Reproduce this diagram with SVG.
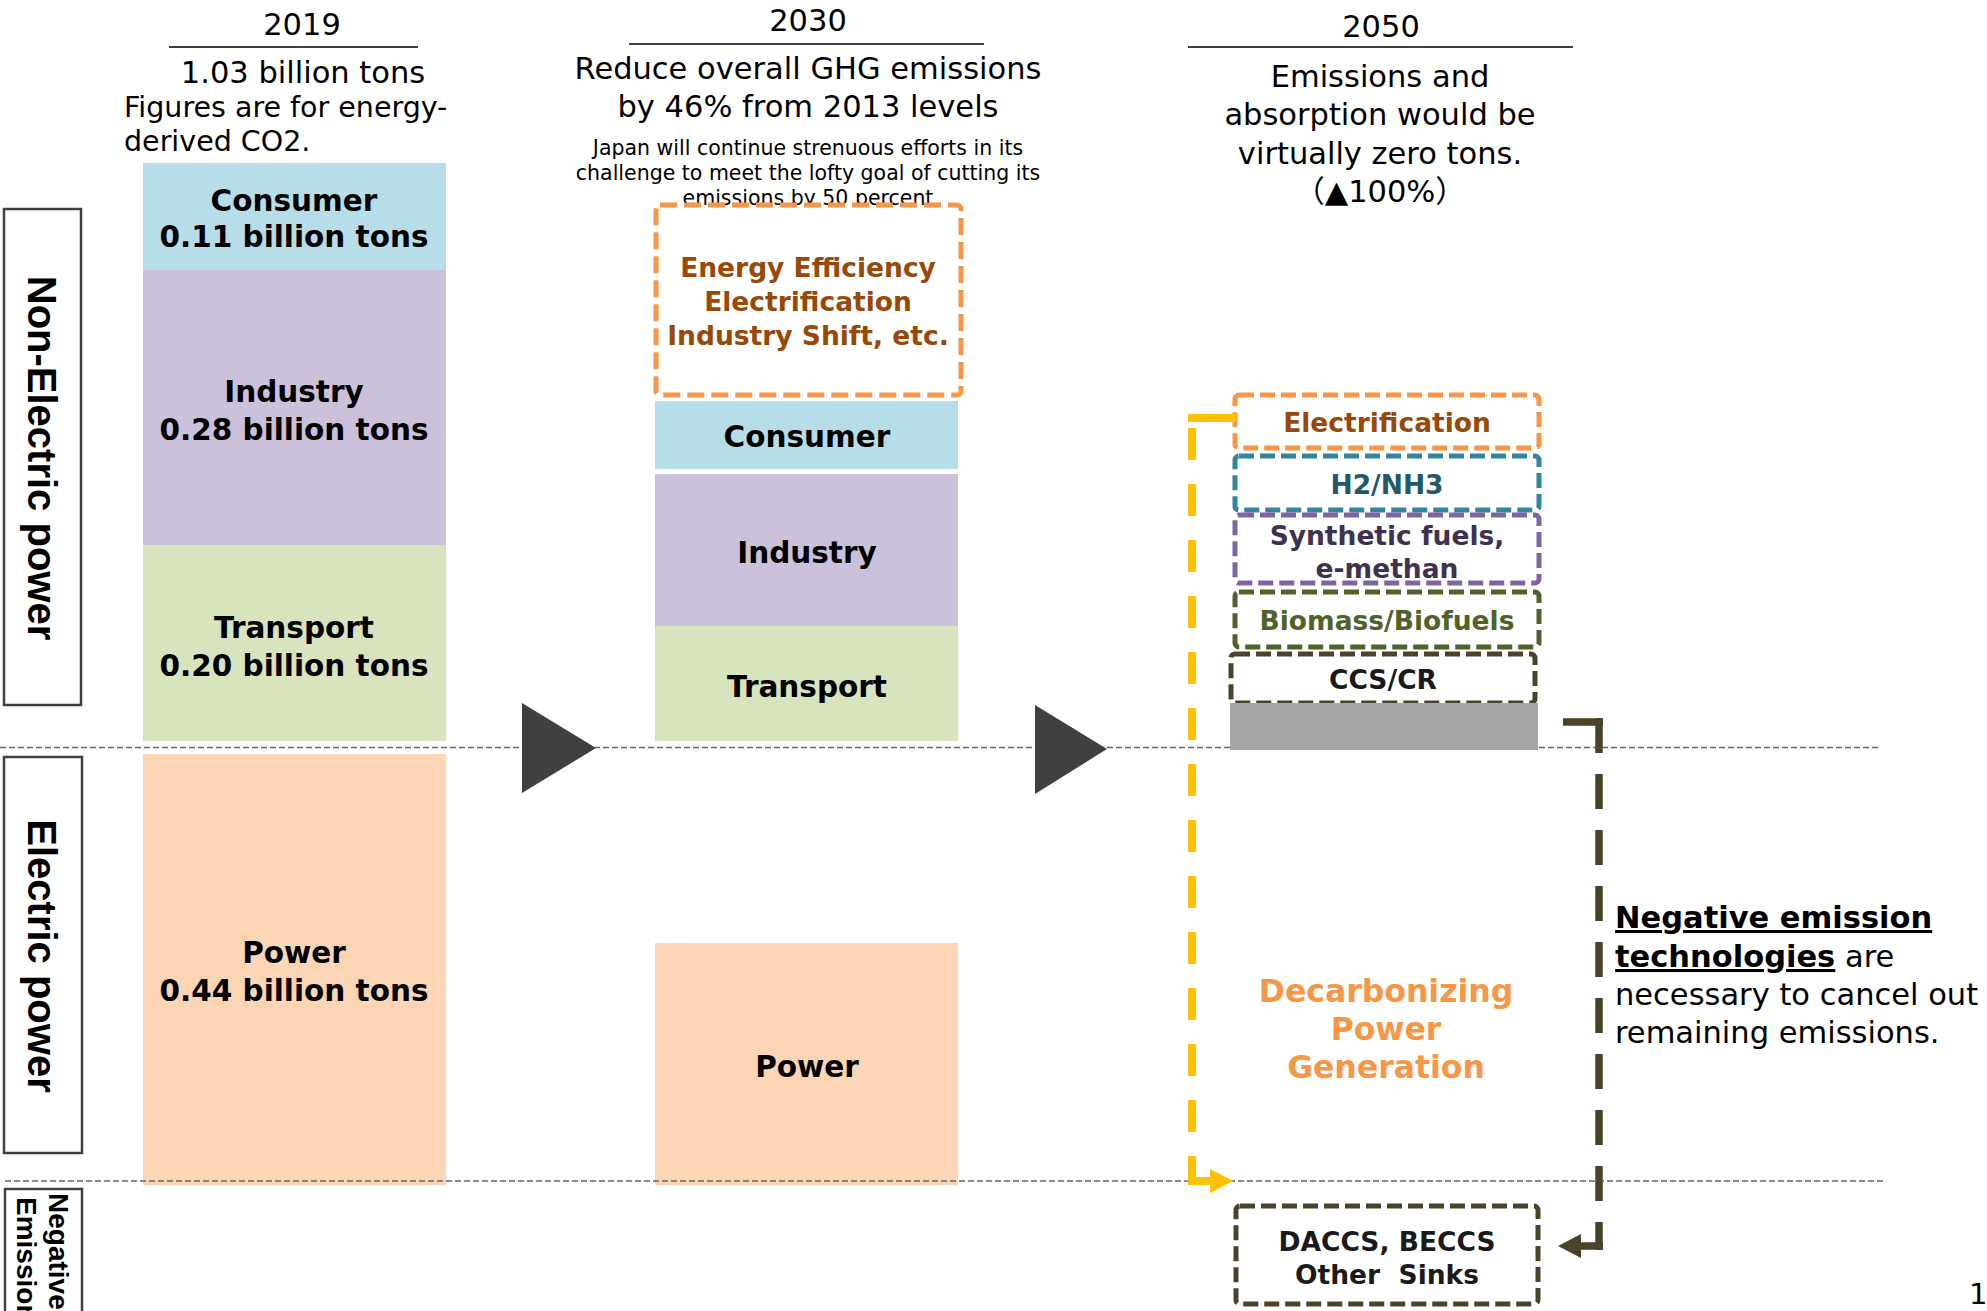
<svg xmlns="http://www.w3.org/2000/svg" width="1987" height="1311" viewBox="0 0 1987 1311">
<defs>
<style>
.t{font-family:"DejaVu Sans","Noto Sans CJK JP",sans-serif;fill:#000}
.h{font-size:30.5px}
.s{font-size:20.5px}
.c{text-anchor:middle}
.b{font-weight:bold}
.lbl{font-family:"DejaVu Sans",sans-serif;font-weight:bold;font-size:29.5px;text-anchor:middle;fill:#000}
.v{font-family:"Liberation Sans",Arial,sans-serif;font-weight:bold;fill:#000}
.sep{stroke:#666;stroke-width:1.5;stroke-dasharray:6 3;fill:none}
.rule{stroke:#404040;stroke-width:2}
.side{fill:#fff;stroke:#404040;stroke-width:2.5}
.dbox{fill:#fff;stroke-width:5;stroke-dasharray:15 6}
.bt{font-family:"DejaVu Sans",sans-serif;font-weight:bold;font-size:26.5px;text-anchor:middle}
.big{font-size:31.5px}
.tri{fill:#404040}
</style>
<marker id="ay" markerUnits="userSpaceOnUse" markerWidth="24" markerHeight="26" viewBox="0 0 24 26" refX="0" refY="13" orient="auto"><path d="M0,1 L23,13 L0,25 Z" fill="#FFC000"/></marker>
<marker id="ao" markerUnits="userSpaceOnUse" markerWidth="24" markerHeight="26" viewBox="0 0 24 26" refX="0" refY="13" orient="auto"><path d="M0,1 L23,13 L0,25 Z" fill="#494429"/></marker>
</defs>
<rect x="0" y="0" width="1987" height="1311" fill="#fff"/>

<line class="sep" x1="0" y1="747.5" x2="1878" y2="747.5"/>

<g id="side-nonelectric">
<rect class="side" x="4" y="209" width="77" height="496"/>
<text class="v" font-size="40" text-anchor="middle" transform="translate(28,458) rotate(90)">Non-Electric power</text>
</g>
<g id="side-electric">
<rect class="side" x="4" y="757" width="78" height="396"/>
<text class="v" font-size="40" text-anchor="middle" transform="translate(28,956) rotate(90)">Electric power</text>
</g>
<g id="side-negative">
<rect class="side" x="5" y="1189" width="77" height="160"/>
<text class="v" font-size="28" transform="translate(49,1193) rotate(90)">Negative</text>
<text class="v" font-size="28" transform="translate(17,1197) rotate(90)">Emissions</text>
</g>

<g id="head-2019">
<text class="t h c" x="302" y="35">2019</text>
<line class="rule" x1="169" y1="47" x2="418" y2="47"/>
<text class="t h c" x="303" y="83">1.03 billion tons</text>
<text class="t" font-size="28.5" x="124" y="117">Figures are for energy-</text>
<text class="t" font-size="28.5" x="124" y="151">derived CO2.</text>
</g>

<g id="node-2019-consumer">
<rect x="143" y="163" width="303" height="107" fill="#B7DDE8"/>
<text class="lbl" x="294" y="211">Consumer</text>
<text class="lbl" x="294" y="247">0.11 billion tons</text>
</g>
<g id="node-2019-industry">
<rect x="143" y="270" width="303" height="275" fill="#CCC1DA"/>
<text class="lbl" x="294" y="402">Industry</text>
<text class="lbl" x="294" y="440">0.28 billion tons</text>
</g>
<g id="node-2019-transport">
<rect x="143" y="545" width="303" height="196" fill="#D7E4BD"/>
<text class="lbl" x="294" y="638">Transport</text>
<text class="lbl" x="294" y="676">0.20 billion tons</text>
</g>
<g id="node-2019-power">
<rect x="143" y="754" width="303" height="431" fill="#FCD5B5"/>
<text class="lbl" x="294" y="963">Power</text>
<text class="lbl" x="294" y="1001">0.44 billion tons</text>
</g>

<g id="head-2030">
<text class="t h c" x="808" y="31">2030</text>
<line class="rule" x1="629" y1="44" x2="984" y2="44"/>
<text class="t h c" x="808" y="79">Reduce overall GHG emissions</text>
<text class="t h c" x="808" y="117">by 46% from 2013 levels</text>
<text class="t s c" x="808" y="155">Japan will continue strenuous efforts in its</text>
<text class="t s c" x="808" y="180">challenge to meet the lofty goal of cutting its</text>
<text class="t s c" x="808" y="205">emissions by 50 percent</text>
</g>

<g id="node-2030-measures">
<rect x="656" y="205" width="305" height="190" rx="4" fill="#fff" stroke="#F79646" stroke-width="5" stroke-dasharray="17 7"/>
<text class="bt" fill="#984807" x="808" y="277">Energy Efficiency</text>
<text class="bt" fill="#984807" x="808" y="311">Electrification</text>
<text class="bt" fill="#984807" x="808" y="345">Industry Shift, etc.</text>
</g>
<g id="node-2030-consumer">
<rect x="655" y="401" width="303" height="68" fill="#B7DDE8"/>
<text class="lbl" x="807" y="447">Consumer</text>
</g>
<g id="node-2030-industry">
<rect x="655" y="474" width="303" height="152" fill="#CCC1DA"/>
<text class="lbl" x="807" y="563">Industry</text>
</g>
<g id="node-2030-transport">
<rect x="655" y="626" width="303" height="115" fill="#D7E4BD"/>
<text class="lbl" x="807" y="697">Transport</text>
</g>
<g id="node-2030-power">
<rect x="655" y="943" width="303" height="242" fill="#FCD5B5"/>
<text class="lbl" x="807" y="1077">Power</text>
</g>

<g id="step-arrows">
<polygon class="tri" points="522,703 596,748 522,793"/>
<polygon class="tri" points="1035,705 1107,749 1035,794"/>
</g>

<g id="head-2050">
<text class="t h c" x="1381" y="37">2050</text>
<line class="rule" x1="1188" y1="47" x2="1573" y2="47"/>
<text class="t h c" x="1380" y="87">Emissions and</text>
<text class="t h c" x="1380" y="125">absorption would be</text>
<text class="t h c" x="1380" y="164">virtually zero tons.</text>
<text class="t h c" x="1380" y="202">（▲100%）</text>
</g>

<g id="node-2050-electrification">
<rect class="dbox" x="1235" y="395" width="304" height="53" rx="4" stroke="#F79646"/>
<text class="bt" fill="#984807" x="1387" y="432">Electrification</text>
</g>
<g id="node-2050-h2">
<rect class="dbox" x="1235" y="456" width="304" height="54" rx="4" stroke="#31859C"/>
<text class="bt" fill="#215968" x="1387" y="494">H2/NH3</text>
</g>
<g id="node-2050-synthetic">
<rect class="dbox" x="1235" y="515" width="304" height="68" rx="4" stroke="#8064A2"/>
<text class="bt" fill="#3F3151" x="1387" y="545">Synthetic fuels,</text>
<text class="bt" fill="#3F3151" x="1387" y="578">e-methan</text>
</g>
<g id="node-2050-biomass">
<rect class="dbox" x="1235" y="592" width="304" height="55" rx="4" stroke="#4F6228"/>
<text class="bt" fill="#4F6228" x="1387" y="630">Biomass/Biofuels</text>
</g>
<g id="node-2050-ccs">
<rect class="dbox" x="1231" y="654" width="304" height="49" rx="4" stroke="#494429"/>
<text class="bt" fill="#1a1a1a" x="1383" y="689">CCS/CR</text>
</g>
<g id="node-2050-residual">
<rect x="1230" y="703" width="308" height="47" fill="#A6A6A6"/>
</g>
<g id="node-2050-power">
<text class="bt big" fill="#F79646" x="1386" y="1002">Decarbonizing</text>
<text class="bt big" fill="#F79646" x="1386" y="1040">Power</text>
<text class="bt big" fill="#F79646" x="1386" y="1078">Generation</text>
</g>

<line class="sep" x1="5" y1="1181" x2="1884" y2="1181"/>

<g id="node-2050-negative">
<rect class="dbox" x="1236" y="1206" width="302" height="98" rx="4" stroke="#494429"/>
<text class="bt" fill="#1a1a1a" x="1387" y="1251">DACCS, BECCS</text>
<text class="bt" fill="#1a1a1a" x="1387" y="1284" xml:space="preserve">Other  Sinks</text>
</g>

<g id="connectors" fill="none">
<path d="M1236,418 H1188" stroke="#FFC000" stroke-width="8"/>
<path d="M1192,428 V1185" stroke="#FFC000" stroke-width="8" stroke-dasharray="32 24"/>
<path d="M1188,1181 H1210" stroke="#FFC000" stroke-width="8" marker-end="url(#ay)"/>
<path d="M1563,722 H1603" stroke="#494429" stroke-width="7.5"/>
<path d="M1599,718 V1250" stroke="#494429" stroke-width="7.5" stroke-dasharray="35 21"/>
<path d="M1603,1246 H1581" stroke="#494429" stroke-width="7.5" marker-end="url(#ao)"/>
</g>

<g id="note">
<text class="t h" x="1615" y="928"><tspan class="b" text-decoration="underline">Negative emission</tspan></text>
<text class="t h" x="1615" y="967"><tspan class="b" text-decoration="underline">technologies</tspan> are</text>
<text class="t h" x="1615" y="1005">necessary to cancel out</text>
<text class="t h" x="1615" y="1043">remaining emissions.</text>
</g>

<text class="t" font-size="29" x="1969" y="1304">1</text>
</svg>
